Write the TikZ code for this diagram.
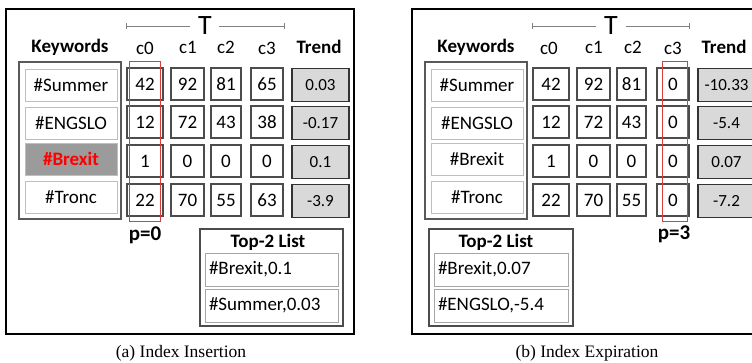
\documentclass[tikz,border=0pt]{standalone}
\usepackage{fontspec}
\setmainfont{Carlito}
\newfontfamily\capfont{Liberation Serif}
\begin{document}
\begin{tikzpicture}[x=1pt,y=-1pt,
  every node/.style={inner sep=0pt,outer sep=0pt},
  frame/.style={draw=black,line width=1.8pt},
  kwgroup/.style={draw=black!65,line width=1.4pt},
  kw/.style={draw={rgb,255:red,178;green,192;blue,210},line width=0.9pt,
    minimum width=92pt,minimum height=32pt,font=\fontsize{19}{22}\selectfont},
  kwhot/.style={kw,fill={rgb,255:red,155;green,155;blue,155},text=red,
    font=\fontsize{19}{22}\selectfont\bfseries},
  cell/.style={draw=black!70,line width=1.3pt,minimum height=32pt,
    font=\fontsize{19}{22}\selectfont},
  trend/.style={draw=black!80,line width=1.6pt,fill={rgb,255:red,217;green,217;blue,217},
    minimum width=57pt,minimum height=33pt,font=\fontsize{17}{20}\selectfont},
  head/.style={font=\fontsize{19}{22}\selectfont},
  boldhead/.style={font=\fontsize{19}{22}\selectfont\bfseries},
  tlabel/.style={font=\fontsize{28}{30}\selectfont},
  tline/.style={draw=black!50,line width=0.8pt},
  win/.style={draw={rgb,255:red,220;green,60;blue,60},line width=0.8pt},
  plabel/.style={font=\fontsize{21}{24}\selectfont\bfseries},
  topbox/.style={draw=black!70,line width=1.4pt},
  topent/.style={draw=black!35,line width=0.9pt,inner xsep=4pt,minimum height=33pt,
    align=left,font=\fontsize{19}{22}\selectfont},
  caption/.style={font=\capfont\fontsize{17.5}{20}\selectfont}
]
\useasboundingbox (0,0) rectangle (752,362);
\clip (0,0) rectangle (752,362);

% ---------------- (a) Index Insertion ----------------
\draw[frame] (6,9) rectangle (354,334);

\node[tlabel] (aT) at (205,26) {T};
\coordinate (aTl) at (126,26);
\coordinate (aTr) at (284,26);
\draw[tline] (aTl) -- (aT.west -| 190,0) (aT.east -| 219,0) -- (aTr);
\draw[tline] ([yshift=-3pt]aTl) -- ([yshift=3pt]aTl) ([yshift=-3pt]aTr) -- ([yshift=3pt]aTr);

\node[boldhead] (akwh) at (70,47) {Keywords};
\node[head] (ac0) at (145,48) {c0};
\node[head] (ac1) at (188,47) {c1};
\node[head] (ac2) at (226,47) {c2};
\node[head] (ac3) at (267,48) {c3};
\node[boldhead] (atrh) at (319,47) {Trend};

\draw[kwgroup] (19,62) rectangle (121,219);
\node[kw] (akw1) at (71,85) {\#Summer};
\node[kw] (akw2) at (71,123) {\#ENGSLO};
\node[kwhot] (akw3) at (71,159) {\#Brexit};
\node[kw] (akw4) at (71,197.5) {\#Tronc};

\foreach \r/\y/\a/\b/\c/\d/\t in
  {1/84/42/92/81/65/0.03, 2/122/12/72/43/38/-0.17, 3/161/1/0/0/0/0.1, 4/200/22/70/55/63/-3.9}{
  \node[cell,minimum width=36pt] (aa\r) at (145,\y) {\a};
  \node[cell,minimum width=33pt] (ab\r) at (187.5,\y) {\b};
  \node[cell,minimum width=30pt] (ac\r) at (226,\y) {\c};
  \node[cell,minimum width=32pt] (ad\r) at (267,\y) {\d};
  \node[trend] (at\r) at (320.5,\y+1) {\t};
}

\node[win,minimum width=31pt,minimum height=160pt] (awin) at (144.5,141) {};
\node[plabel] (ap) at (145,235) {p=0};

\node[topbox,minimum width=143pt,minimum height=97pt] (atop) at (271.5,277.5) {};
\node[boldhead] (atoph) at (268,242) {Top-2 List};
\node[topent,text width=125pt] (atop1) at (271.5,269.5) {\#Brexit,0.1};
\node[topent,text width=125pt] (atop2) at (271.5,305.5) {\#Summer,0.03};

\node[caption] (acap) at (181,353) {(a)\ Index Insertion};

% ---------------- (b) Index Expiration ----------------
\draw[frame] (412,9) rectangle (770,334);

\node[tlabel] (bT) at (611,26) {T};
\coordinate (bTl) at (532,26);
\coordinate (bTr) at (689,26);
\draw[tline] (bTl) -- (bT.west -| 596,0) (bT.east -| 626,0) -- (bTr);
\draw[tline] ([yshift=-3pt]bTl) -- ([yshift=3pt]bTl) ([yshift=-3pt]bTr) -- ([yshift=3pt]bTr);

\node[boldhead] (bkwh) at (476,47) {Keywords};
\node[head] (bc0) at (549,48) {c0};
\node[head] (bc1) at (594,47) {c1};
\node[head] (bc2) at (633,47) {c2};
\node[head] (bc3) at (673,48) {c3};
\node[boldhead] (btrh) at (724,47) {Trend};

\draw[kwgroup] (425,62) rectangle (527,219);
\node[kw] (bkw1) at (477,85) {\#Summer};
\node[kw] (bkw2) at (477,123) {\#ENGSLO};
\node[kw] (bkw3) at (477,159) {\#Brexit};
\node[kw] (bkw4) at (477,197.5) {\#Tronc};

\foreach \r/\y/\a/\b/\c/\d/\t in
  {1/84/42/92/81/0/-10.33, 2/122/12/72/43/0/-5.4, 3/161/1/0/0/0/0.07, 4/200/22/70/55/0/-7.2}{
  \node[cell,minimum width=36pt] (ba\r) at (551,\y) {\a};
  \node[cell,minimum width=33pt] (bb\r) at (593.5,\y) {\b};
  \node[cell,minimum width=29pt] (bc\r) at (631.5,\y) {\c};
  \node[cell,minimum width=32pt] (bd\r) at (673,\y) {\d};
  \node[trend] (bt\r) at (726.5,\y+1) {\t};
}

\node[win,minimum width=25pt,minimum height=160pt] (bwin) at (674.5,141) {};
\node[plabel] (bp) at (674,234) {p=3};

\node[topbox,minimum width=144pt,minimum height=97pt] (btop) at (501,277.5) {};
\node[boldhead] (btoph) at (496,242) {Top-2 List};
\node[topent,text width=126pt] (btop1) at (501,269.5) {\#Brexit,0.07};
\node[topent,text width=126pt] (btop2) at (501,305.5) {\#ENGSLO,-5.4};

\node[caption] (bcap) at (587,353) {(b)\ Index Expiration};
\end{tikzpicture}
\end{document}
